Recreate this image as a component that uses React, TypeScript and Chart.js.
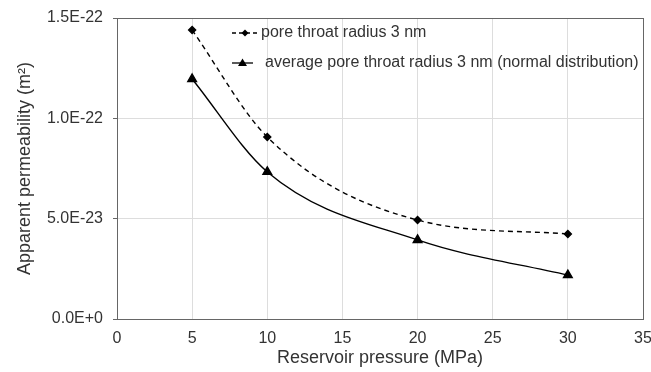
import React, { useEffect, useRef } from "react";
import { Chart, registerables } from "chart.js";

Chart.register(...registerables);

const pressure = [5, 10, 20, 30];
const poreThroat3nm = [1.44e-22, 0.907e-22, 0.493e-22, 0.424e-22];
const avgPoreThroat3nmNormal = [1.196e-22, 0.733e-22, 0.394e-22, 0.219e-22];
const seriesLabels = [
  "pore throat radius 3 nm",
  "average pore throat radius 3 nm (normal distribution)",
];
const xTitle = "Reservoir pressure (MPa)";
const yTitle = "Apparent permeability (m\u00B2)";

const FONT = "'Liberation Sans', Arial, sans-serif";
const TEXT = "#333333";

const framePlugin = {
  id: "frameAndLegend",
  afterDraw(chart: any) {
    const { ctx, chartArea } = chart;
    ctx.save();
    ctx.strokeStyle = "#666666";
    ctx.lineWidth = 1;
    ctx.strokeRect(
      Math.round(chartArea.left) + 0.5,
      Math.round(chartArea.top) + 0.5,
      Math.round(chartArea.right - chartArea.left),
      Math.round(chartArea.bottom - chartArea.top)
    );
    const rows = [
      { y: 33, x0: 232, x1: 258, tx: 261, dash: [4, 3], shape: "diamond" },
      { y: 63, x0: 232, x1: 253, tx: 265, dash: [], shape: "triangle" },
    ];
    rows.forEach((r, i) => {
      ctx.strokeStyle = "#000";
      ctx.lineWidth = 1.3;
      ctx.setLineDash(r.dash);
      ctx.beginPath();
      ctx.moveTo(r.x0, r.y);
      ctx.lineTo(r.x1, r.y);
      ctx.stroke();
      ctx.setLineDash([]);
      const cx = (r.x0 + r.x1) / 2;
      ctx.fillStyle = "#000";
      ctx.beginPath();
      if (r.shape === "diamond") {
        ctx.moveTo(cx, r.y - 3.5);
        ctx.lineTo(cx + 3.5, r.y);
        ctx.lineTo(cx, r.y + 3.5);
        ctx.lineTo(cx - 3.5, r.y);
      } else {
        ctx.moveTo(cx, r.y - 4.5);
        ctx.lineTo(cx + 4.5, r.y + 3);
        ctx.lineTo(cx - 4.5, r.y + 3);
      }
      ctx.closePath();
      ctx.fill();
      ctx.fillStyle = TEXT;
      ctx.font = `16px ${FONT}`;
      ctx.textBaseline = "middle";
      ctx.textAlign = "left";
      ctx.fillText(seriesLabels[i], r.tx, r.y);
    });
    ctx.restore();
  },
};

export default function App() {
  const ref = useRef<HTMLCanvasElement | null>(null);
  useEffect(() => {
    document.body.style.margin = "0";
    const canvas = ref.current!;
    const chart = new Chart(canvas, {
      type: "line",
      data: {
        datasets: [
          {
            label: seriesLabels[0],
            data: pressure.map((x, i) => ({ x, y: poreThroat3nm[i] })),
            borderColor: "#000",
            backgroundColor: "#000",
            borderWidth: 1.4,
            borderDash: [5, 4],
            pointStyle: "rectRot",
            pointRadius: 3.5,
            tension: 0.4,
            cubicInterpolationMode: "monotone",
          },
          {
            label: seriesLabels[1],
            data: pressure.map((x, i) => ({ x, y: avgPoreThroat3nmNormal[i] })),
            borderColor: "#000",
            backgroundColor: "#000",
            borderWidth: 1.4,
            pointStyle: "triangle",
            pointRadius: 5,
            tension: 0.4,
            cubicInterpolationMode: "monotone",
          },
        ],
      },
      options: {
        animation: false,
        responsive: false,
        maintainAspectRatio: false,
        layout: { padding: { top: 18, right: 8, left: 12, bottom: 0 } },
        plugins: {
          legend: { display: false },
          tooltip: { enabled: false },
        },
        scales: {
          x: {
            type: "linear",
            min: 0,
            max: 35,
            ticks: {
              stepSize: 5,
              color: TEXT,
              font: { family: FONT, size: 16 },
              padding: 10,
            },
            grid: { color: "#dddddd", tickLength: 0, drawTicks: false },
            border: { display: false },
            title: {
              display: true,
              text: xTitle,
              color: TEXT,
              font: { family: FONT, size: 18 },
              padding: { top: 2, bottom: 3 },
            },
            afterFit: (s: any) => {
              s.height = 53;
              s.paddingRight = 0;
              s.paddingLeft = 0;
            },
          },
          y: {
            type: "linear",
            min: 0,
            max: 1.5e-22,
            ticks: {
              stepSize: 5e-23,
              color: TEXT,
              font: { family: FONT, size: 16 },
              padding: 10,
              callback: (v: any) => Number(v).toExponential(1).toUpperCase(),
            },
            grid: { color: "#dddddd", tickLength: 4, tickColor: "#666666" },
            border: { display: false },
            title: {
              display: true,
              text: yTitle,
              color: TEXT,
              font: { family: FONT, size: 18 },
              padding: { top: 2, bottom: 0 },
            },
            afterFit: (s: any) => {
              s.width = 105;
              s.paddingTop = 0;
              s.paddingBottom = 0;
            },
          },
        },
      },
      plugins: [framePlugin],
    } as any);
    return () => chart.destroy();
  }, []);
  return <canvas ref={ref} width={651} height={372} style={{ display: "block" }} />;
}
